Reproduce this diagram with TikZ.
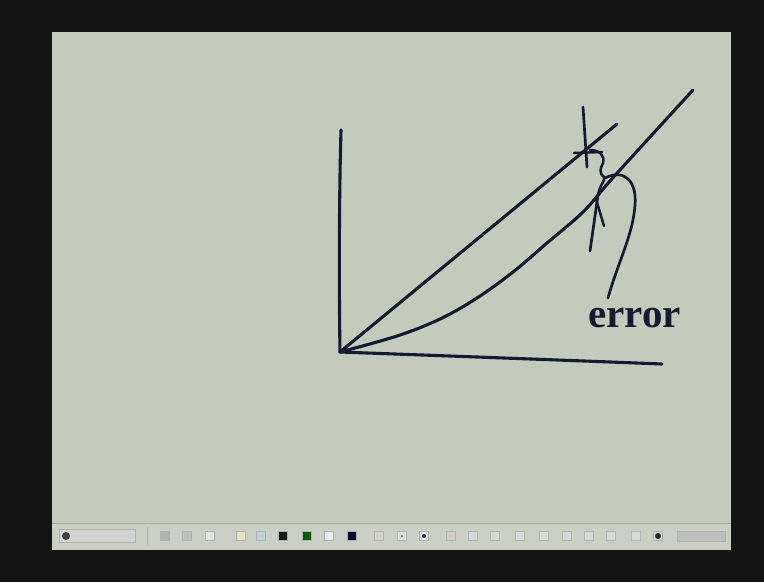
\documentclass[tikz,border=0pt]{standalone}
\usepackage{fontspec}
\setmainfont{Liberation Serif}
\begin{document}
\begin{tikzpicture}[x=1pt,y=-1pt,
  ink/.style={draw=inkc,line width=3.1pt,line cap=round,line join=round},
  tool/.style={fill=#1,draw=gray!60,line width=0.4pt,minimum size=9pt,inner sep=0pt}]
\definecolor{inkc}{RGB}{22,26,48}
\definecolor{board}{RGB}{196,203,189}
\definecolor{barc}{RGB}{203,207,198}
\useasboundingbox (0,0) rectangle (764,582);
\fill[black!92] (0,0) rectangle (764,582);
\fill[board] (52,32) rectangle (731,550);
\fill[barc] (52,523) rectangle (731,550);
\draw[gray!70,line width=0.6pt] (52,523) -- (731,523);
% toolbar items
\node[tool=gray!35,minimum width=76pt,minimum height=13pt] (start) at (97,536) {};
\node[fill=black!75,circle,minimum size=8pt,inner sep=0pt] (starticon) at (66,536) {};
\draw[gray!60] (147,527) -- (147,545);
\foreach \x/\c in {165/gray!60,187/gray!50,210/white!80!gray,241/yellow!45!gray!40,261/cyan!30!gray!45,283/black!90,307/green!35!black,329/white!85!gray,352/blue!20!black,379/orange!12!gray!35,402/gray!25,424/gray!25,451/orange!20!gray!40,473/gray!30,495/gray!30,520/gray!30,544/gray!30,567/gray!30,589/gray!30,611/gray!30,636/gray!30,658/gray!30}
  \node[tool=\c] at (\x,536) {};
\node[fill=black!85,circle,minimum size=4pt,inner sep=0pt] at (424,536) {};
\node[fill=black!60,circle,minimum size=2.5pt,inner sep=0pt] at (402,536) {};
\node[fill=black!85,circle,minimum size=6pt,inner sep=0pt] at (658,536) {};
\node[tool=gray!50,minimum width=48pt,minimum height=10pt] (clock) at (701,536) {};
% axes
\coordinate (O) at (340,352);
\coordinate (ytop) at (341,130);
\coordinate (xend) at (662,364);
\draw[ink] (ytop) .. controls (339,200) and (339,290) .. (O);
\draw[ink] (O) .. controls (450,356) and (560,360) .. (xend);
% upper straight line
\coordinate (u) at (617,124);
\draw[ink] (O) -- (u);
% lower curve
\coordinate (l) at (693,90);
\draw[ink] plot[smooth,tension=0.6] coordinates {(340,352) (397,336) (440,319) (477,298) (513,272) (547,243) (583,212) (610,181) (650,137) (693,90)};
% upper cross
\draw[ink,line width=2.7pt] (583,107) -- (587,167);
\draw[ink,line width=2.5pt] (574,153) -- (602,152);
% squiggle brace
\draw[ink,line width=2.5pt] (590,150) .. controls (600,150) and (605,156) .. (603,163)
  .. controls (601,168) and (598,172) .. (604,177) .. controls (606,180) and (600,184) .. (598,195);
% lower cross
\draw[ink,line width=2.7pt] (598,195) -- (590,251);
\draw[ink,line width=2.5pt] (596,199) -- (604,226);
% pointer loop
\coordinate (loopend) at (608,298);
\draw[ink,line width=2.7pt] (605,178) .. controls (625,168) and (637,182) .. (635,205)
  .. controls (633,235) and (618,262) .. (loopend);
\node[font=\bfseries\fontsize{41}{43}\selectfont,text=inkc,inner sep=0pt,anchor=west] (err) at (588,318) {error};
\end{tikzpicture}
\end{document}
